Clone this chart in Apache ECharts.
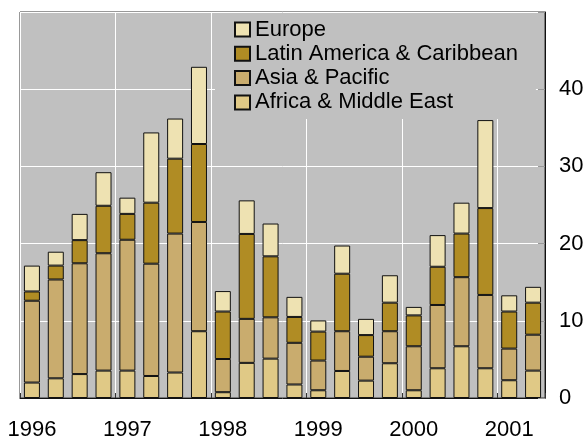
<!DOCTYPE html>
<html>
<head>
<meta charset="utf-8">
<script src="https://cdn.jsdelivr.net/npm/echarts@6/dist/echarts.min.js"></script>
<style>html,body{margin:0;padding:0;background:#fff;}#c{width:585px;height:436px;}</style>
</head>
<body>
<div id="c"></div>
<script>
const quarters = ['1996 Q1','1996 Q2','1996 Q3','1996 Q4','1997 Q1','1997 Q2','1997 Q3','1997 Q4',
  '1998 Q1','1998 Q2','1998 Q3','1998 Q4','1999 Q1','1999 Q2','1999 Q3','1999 Q4',
  '2000 Q1','2000 Q2','2000 Q3','2000 Q4','2001 Q1','2001 Q2'];
const seriesNames = ['Europe','Latin America & Caribbean','Asia & Pacific','Africa & Middle East'];
const africa = [2.0, 2.55, 3.1, 3.55, 3.55, 2.85, 3.3, 8.65, 0.75, 4.55, 5.1, 1.75, 1.0, 3.5, 2.25, 4.5, 1.0, 3.85, 6.7, 3.85, 2.3, 3.55];
const asia   = [10.6, 12.8, 14.35, 15.2, 16.95, 14.55, 18.0, 14.15, 4.3, 5.7, 5.35, 5.4, 3.85, 5.15, 3.1, 4.15, 5.7, 8.2, 8.95, 9.5, 4.1, 4.65];
const latin  = [1.2, 1.8, 3.0, 6.15, 3.35, 7.9, 9.7, 10.1, 6.15, 11.0, 7.9, 3.35, 3.75, 7.45, 2.8, 3.7, 4.0, 4.95, 5.65, 11.25, 4.8, 4.15];
const europe = [3.35, 1.8, 3.4, 4.35, 2.1, 9.1, 5.2, 10.0, 2.65, 4.35, 4.25, 2.6, 1.45, 3.65, 2.1, 3.55, 1.1, 4.1, 4.0, 11.4, 2.1, 2.05];
const yTicks = [0, 10, 20, 30, 40];

const colors = {
  'Europe': '#EEE2B2',
  'Latin America & Caribbean': '#B08C24',
  'Asia & Pacific': '#C9AC6E',
  'Africa & Middle East': '#E0C986'
};
const font = "'Liberation Sans', Arial, sans-serif";
function bar(name, data) {
  return {
    name: name, type: 'bar', stack: 'all', data: data, barWidth: 16,
    itemStyle: { color: colors[name], borderColor: '#111', borderWidth: 1 }
  };
}
const chart = echarts.init(document.getElementById('c'));
chart.setOption({
  animation: false,
  grid: { left: 20, right: 40, top: 12, bottom: 38, containLabel: false, outerBoundsMode: 'none',
    show: true, backgroundColor: '#C0C0C0', borderColor: '#333', borderWidth: 1 },
  legend: {
    orient: 'vertical', left: 215, top: 13,
    data: seriesNames,
    backgroundColor: '#C0C0C0',
    padding: [5.5, 18, 5.5, 19],
    itemWidth: 15, itemHeight: 14, itemGap: 2.3,
    icon: 'rect',
    textStyle: { fontFamily: font, fontSize: 22, lineHeight: 21, color: '#000' }
  },
  xAxis: {
    type: 'category', data: quarters, boundaryGap: true,
    axisLine: { show: true, lineStyle: { color: '#111', width: 1 } },
    axisTick: { show: true, inside: true, interval: 3, length: 5, lineStyle: { color: '#333' } },
    splitLine: { show: true, interval: 3, lineStyle: { color: '#FFFFFF', width: 1 } },
    axisLabel: { interval: 3, margin: 21, fontFamily: font, fontSize: 22, color: '#000', formatter: v => v.slice(0, 4) }
  },
  yAxis: {
    type: 'value', position: 'right', min: 0, max: 50, interval: 10,
    axisLine: { show: true, lineStyle: { color: '#111', width: 1 } },
    axisTick: { show: true, inside: true, length: 7, lineStyle: { color: '#999' } },
    splitLine: { show: true, lineStyle: { color: '#FFFFFF', width: 1 } },
    axisLabel: { margin: 14, fontFamily: font, fontSize: 22, color: '#000',
      formatter: v => yTicks.indexOf(v) >= 0 ? String(v) : '' }
  },
  series: [
    bar('Africa & Middle East', africa),
    bar('Asia & Pacific', asia),
    bar('Latin America & Caribbean', latin),
    bar('Europe', europe)
  ]
});
</script>
</body>
</html>
